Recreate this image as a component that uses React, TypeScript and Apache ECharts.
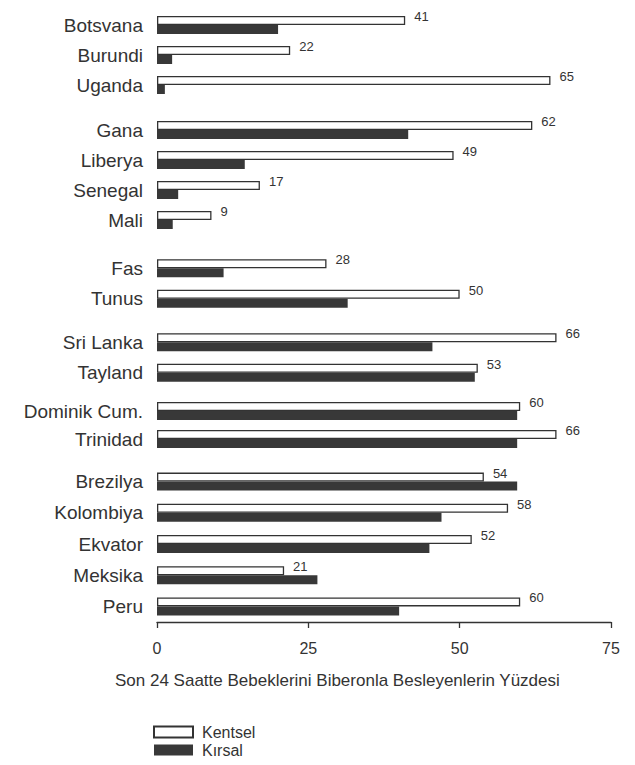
import React, { useEffect, useRef } from "react";
import * as echarts from "echarts";

const countries = [
  "Botsvana", "Burundi", "Uganda",
  "Gana", "Liberya", "Senegal", "Mali",
  "Fas", "Tunus",
  "Sri Lanka", "Tayland",
  "Dominik Cum.", "Trinidad",
  "Brezilya", "Kolombiya", "Ekvator", "Meksika", "Peru",
];
const urban = [41, 22, 65, 62, 49, 17, 9, 28, 50, 66, 53, 60, 66, 54, 58, 52, 21, 60];
const rural = [20, 2.5, 1.3, 41.5, 14.5, 3.5, 2.6, 11, 31.5, 45.5, 52.5, 59.5, 59.5, 59.5, 47, 45, 26.5, 40];
const groupSizes = [3, 4, 2, 2, 2, 5];
const xMin = 0;
const xMax = 75;
const xStep = 25;
const seriesNames = ["Kentsel", "Kırsal"];
const axisTitle = "Son 24 Saatte Bebeklerini Biberonla Besleyenlerin Yüzdesi";

// layout (pixel bands of each group)
const bands = [
  [10, 100],
  [115, 235],
  [253, 314],
  [327, 388],
  [397, 453],
  [466, 622],
];

const FONT = "Liberation Sans, Arial, sans-serif";
const INK = "#333";

export default function App() {
  const ref = useRef<HTMLDivElement>(null);
  useEffect(() => {
    document.body.style.margin = "0";
    const chart = echarts.init(ref.current!, null, { renderer: "svg" });
    const grids: any[] = [];
    const xAxes: any[] = [];
    const yAxes: any[] = [];
    const series: any[] = [];
    let start = 0;
    groupSizes.forEach((n, g) => {
      const names = countries.slice(start, start + n);
      const u = urban.slice(start, start + n);
      const r = rural.slice(start, start + n);
      start += n;
      const last = g === groupSizes.length - 1;
      grids.push({ left: 157, right: 24, top: bands[g][0], height: bands[g][1] - bands[g][0] });
      xAxes.push({
        type: "value",
        gridIndex: g,
        min: xMin,
        max: xMax,
        interval: xStep,
        show: last,
        splitLine: { show: false },
        axisLine: { show: true, lineStyle: { color: INK, width: 1.3 } },
        axisTick: { show: true, length: 6, lineStyle: { color: INK, width: 1.3 } },
        axisLabel: { fontSize: 16, color: INK, fontFamily: FONT, margin: 18 },
      });
      yAxes.push({
        type: "category",
        gridIndex: g,
        inverse: true,
        data: names,
        axisLine: { show: false },
        axisTick: { show: false },
        axisLabel: { fontSize: 19, color: INK, fontFamily: FONT, margin: 14 },
      });
      series.push({
        name: seriesNames[0],
        type: "bar",
        xAxisIndex: g,
        yAxisIndex: g,
        data: u,
        barWidth: 9,
        barGap: "0%",
        itemStyle: { color: "#fff", borderColor: INK, borderWidth: 1.3 },
        label: {
          show: true,
          position: "right",
          distance: 9,
          offset: [0, -4],
          fontSize: 13,
          color: INK,
          fontFamily: FONT,
        },
      });
      series.push({
        name: seriesNames[1],
        type: "bar",
        xAxisIndex: g,
        yAxisIndex: g,
        data: r,
        barWidth: 9,
        barGap: "0%",
        itemStyle: { color: "#383838" },
      });
    });
    chart.setOption({
      animation: false,
      backgroundColor: "#fff",
      textStyle: { fontFamily: FONT, color: INK },
      title: {
        text: axisTitle,
        left: 110,
        top: 667,
        textStyle: { fontSize: 17, fontWeight: "normal", color: INK, fontFamily: FONT },
      },
      legend: {
        data: seriesNames,
        orient: "vertical",
        left: 153,
        top: 724,
        height: 80,
        padding: 0,
        icon: "rect",
        itemWidth: 39,
        itemHeight: 11,
        itemGap: 2,
        textStyle: { fontSize: 16, color: INK, fontFamily: FONT, padding: [0, 0, 0, 4] },
      },
      grid: grids,
      xAxis: xAxes,
      yAxis: yAxes,
      series,
    });
    return () => chart.dispose();
  }, []);
  return <div ref={ref} style={{ width: 635, height: 765 }} />;
}
